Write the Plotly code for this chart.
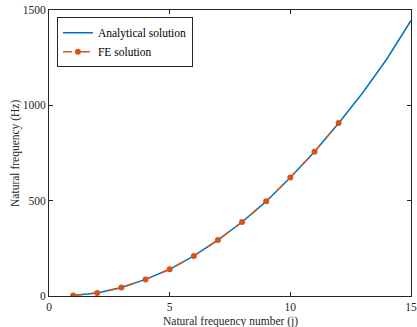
import plotly.graph_objects as go

j_analytical = list(range(1, 16))
f_analytical = [3, 16, 45, 87, 140, 210, 293, 388, 496, 621, 757, 906, 1066, 1243, 1445]
j_fe = list(range(1, 13))
f_fe = [3, 16, 44, 87, 140, 210, 294, 388, 497, 622, 757, 907]

x_ticks = [0, 5, 10, 15]
y_ticks = [0, 500, 1000, 1500]

font_family = "Liberation Serif, Times New Roman, serif"

fig = go.Figure()
fig.add_trace(go.Scatter(x=j_analytical, y=f_analytical, mode="lines",
                         name="Analytical solution",
                         line=dict(color="#0072BD", width=1.5)))
fig.add_trace(go.Scatter(x=j_fe, y=f_fe, mode="lines+markers",
                         name="FE solution",
                         line=dict(color="#D95319", width=1.5, dash="dash"),
                         marker=dict(color="#D95319", size=6, symbol="circle")))

axis_common = dict(showline=True, linecolor="#262626", linewidth=1, mirror="ticks",
                   ticks="inside", ticklen=4, tickcolor="#262626", showgrid=False,
                   zeroline=False, automargin=False,
                   tickfont=dict(family=font_family, size=11.5, color="#262626"))

fig.update_layout(
    width=417, height=327,
    margin=dict(l=49, r=6, t=10, b=31),
    paper_bgcolor="white", plot_bgcolor="white",
    font=dict(family=font_family, size=11, color="#262626"),
    showlegend=True,
    legend=dict(x=0.022, y=0.975, xanchor="left", yanchor="top",
                bgcolor="white", bordercolor="#262626", borderwidth=1,
                font=dict(family=font_family, size=11.5, color="#000000"),
                tracegroupgap=0, itemwidth=30),
    xaxis=dict(range=[0, 15], tickvals=x_ticks, **axis_common),
    yaxis=dict(range=[0, 1500], tickvals=y_ticks, **axis_common),
    annotations=[
        dict(text="Natural frequency number (j)", xref="paper", yref="paper",
             x=0.5, y=-0.09, xanchor="center", yanchor="middle", showarrow=False,
             font=dict(family=font_family, size=11.5, color="#262626")),
        dict(text="Natural frequency (Hz)", xref="paper", yref="paper",
             x=-0.094, y=0.5, xanchor="center", yanchor="middle", showarrow=False,
             textangle=-90,
             font=dict(family=font_family, size=11.5, color="#262626")),
    ],
)

fig.write_html("out.html", config={"displayModeBar": False},
               post_script="document.body.style.margin='0';document.body.style.overflow='hidden';")
